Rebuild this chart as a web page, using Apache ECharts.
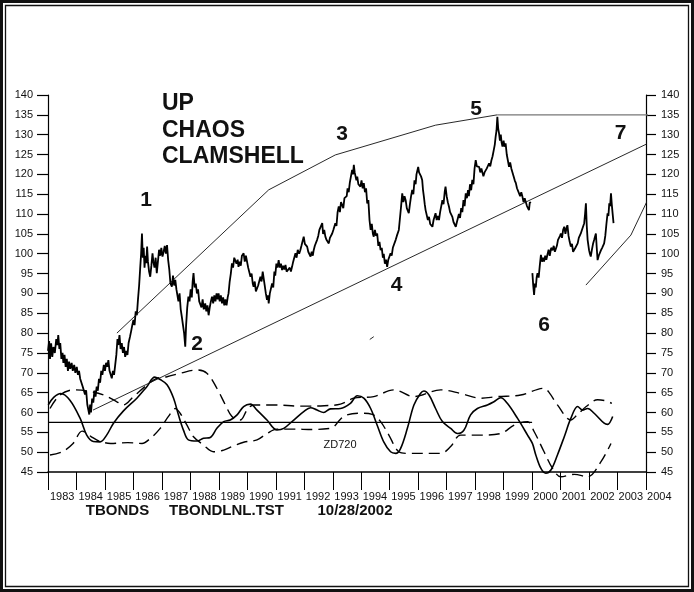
<!DOCTYPE html>
<html><head><meta charset="utf-8">
<script src="https://cdn.jsdelivr.net/npm/echarts@6/dist/echarts.min.js"></script>
<style>html,body{margin:0;padding:0;background:#fff}#c{width:694px;height:592px}</style>
</head><body><div id="c"></div>
<script>
// ---------- data ----------
const yearLabels = ['1983','1984','1985','1986','1987','1988','1989','1990','1991','1992','1993','1994','1995','1996','1997','1998','1999','2000','2001','2002','2003','2004'];

const priceA = [[1983.00,75.5],[1983.04,78.0],[1983.07,73.5],[1983.11,77.4],[1983.15,74.0],[1983.19,76.5],[1983.24,75.0],[1983.29,78.5],[1983.33,77.0],[1983.36,79.5],[1983.40,76.0],[1983.43,77.5],[1983.47,73.5],[1983.51,75.0],[1983.54,72.5],[1983.58,74.5],[1983.62,71.5],[1983.66,73.5],[1983.70,70.5],[1983.74,72.8],[1983.78,71.0],[1983.83,72.5],[1983.87,70.5],[1983.92,72.0],[1983.96,70.0],[1984.01,71.5],[1984.05,69.5],[1984.09,70.5],[1984.13,68.5],[1984.18,69.0],[1984.22,66.5],[1984.26,67.0],[1984.30,64.5],[1984.34,65.5],[1984.38,62.0],[1984.42,61.5],[1984.45,59.5],[1984.48,62.0],[1984.51,60.0],[1984.55,63.5],[1984.59,62.5],[1984.63,65.5],[1984.67,64.0],[1984.71,66.5],[1984.75,65.5],[1984.79,68.5],[1984.83,67.5],[1984.87,70.5],[1984.91,69.5],[1984.96,72.0],[1985.00,70.5],[1985.04,72.5],[1985.08,71.5],[1985.12,73.2],[1985.16,70.5],[1985.20,71.0],[1985.24,68.6],[1985.28,70.5],[1985.32,69.5],[1985.36,72.0],[1985.40,74.5],[1985.44,78.5],[1985.47,77.0],[1985.51,79.5],[1985.55,76.0],[1985.59,77.5],[1985.63,75.0],[1985.67,76.5],[1985.71,74.0],[1985.75,75.5],[1985.79,74.5],[1985.83,77.5],[1985.88,79.1],[1985.92,80.5],[1985.96,82.0],[1986.00,83.3],[1986.04,82.0],[1986.08,85.5],[1986.12,84.5],[1986.16,88.5],[1986.20,92.0],[1986.24,96.7],[1986.27,100.0],[1986.30,105.1],[1986.33,99.0],[1986.36,101.5],[1986.39,96.5],[1986.42,99.5],[1986.45,97.6],[1986.48,101.8],[1986.51,98.0],[1986.55,95.5],[1986.59,94.2],[1986.63,97.0],[1986.67,100.1],[1986.70,98.0],[1986.74,96.5],[1986.78,99.0],[1986.82,95.1],[1986.86,98.0],[1986.90,101.0],[1986.94,99.5],[1986.98,101.5],[1987.02,99.3],[1987.06,100.5],[1987.10,102.0],[1987.14,100.0],[1987.18,102.2],[1987.22,98.4],[1987.26,96.0],[1987.30,92.5],[1987.35,91.7],[1987.39,94.5],[1987.43,92.0],[1987.47,93.4],[1987.51,91.0],[1987.55,90.5],[1987.58,88.0],[1987.62,90.0],[1987.66,86.0],[1987.70,84.1],[1987.74,82.0],[1987.78,80.0],[1987.82,76.6],[1987.85,82.0],[1987.89,86.5],[1987.93,89.2],[1987.97,88.0],[1988.01,91.0],[1988.05,89.0],[1988.08,93.0],[1988.11,95.1],[1988.15,91.5],[1988.19,92.5],[1988.23,90.0],[1988.27,91.0],[1988.31,88.0],[1988.35,88.4],[1988.39,86.5],[1988.43,88.5],[1988.47,86.0],[1988.52,87.5],[1988.56,85.5],[1988.60,87.0],[1988.64,84.5],[1988.68,86.5],[1988.72,88.0],[1988.76,89.2],[1988.80,87.5],[1988.84,89.5],[1988.88,88.0],[1988.92,90.0],[1988.96,88.5],[1988.99,90.0],[1989.03,88.0],[1989.07,89.5],[1989.11,87.5],[1989.15,89.0],[1989.19,87.0],[1989.23,88.5],[1989.27,87.0],[1989.31,89.0],[1989.34,90.0],[1989.38,93.0],[1989.42,95.0],[1989.46,97.6],[1989.50,96.5],[1989.54,99.0],[1989.58,99.3],[1989.62,97.5],[1989.66,98.5],[1989.69,96.7],[1989.73,98.0],[1989.77,97.0],[1989.81,99.5],[1989.87,100.1],[1989.91,98.0],[1989.95,99.5],[1989.99,99.3],[1990.03,96.5],[1990.07,97.0],[1990.11,94.2],[1990.15,95.0],[1990.19,92.5],[1990.22,91.7],[1990.26,93.0],[1990.30,90.5],[1990.34,90.0],[1990.38,92.0],[1990.42,91.5],[1990.46,94.2],[1990.50,93.0],[1990.54,95.5],[1990.57,95.1],[1990.61,92.0],[1990.65,90.0],[1990.69,88.4],[1990.73,89.5],[1990.75,87.5],[1990.79,90.0],[1990.83,89.5],[1990.87,92.5],[1990.91,91.5],[1990.95,95.5],[1990.98,94.5],[1991.02,97.5],[1991.06,96.5],[1991.10,98.4],[1991.14,96.5],[1991.18,97.5],[1991.22,95.9],[1991.26,97.0],[1991.30,96.0],[1991.34,97.2],[1991.38,95.5],[1991.42,96.0],[1991.45,95.1],[1991.49,96.5],[1991.53,95.5],[1991.57,96.7],[1991.61,98.0],[1991.65,97.5],[1991.69,100.1],[1991.73,99.0],[1991.77,101.0],[1991.82,100.0],[1991.86,100.9],[1991.90,102.0],[1991.94,101.5],[1991.98,104.3],[1992.02,102.5],[1992.06,103.0],[1992.10,101.8],[1992.14,100.5],[1992.18,101.0],[1992.22,99.3],[1992.26,100.5],[1992.30,99.5],[1992.33,100.9],[1992.37,102.0],[1992.41,101.5],[1992.45,103.5],[1992.49,104.5],[1992.53,106.0],[1992.58,105.5],[1992.63,107.7],[1992.66,105.0],[1992.70,106.0],[1992.74,104.3],[1992.78,103.5],[1992.82,104.0],[1992.86,102.6],[1992.90,104.0],[1992.94,103.5],[1992.98,105.1],[1993.02,106.0],[1993.06,105.5],[1993.09,107.7],[1993.13,107.0],[1993.17,110.5],[1993.21,111.9],[1993.25,110.5],[1993.29,113.0],[1993.33,112.7],[1993.37,111.5],[1993.41,114.0],[1993.45,113.5],[1993.49,114.5],[1993.52,116.5],[1993.56,115.5],[1993.60,118.0],[1993.64,117.5],[1993.68,121.1],[1993.71,120.0],[1993.74,122.4],[1993.77,120.5],[1993.80,121.0],[1993.83,118.5],[1993.86,119.4],[1993.90,117.5],[1993.94,118.0],[1993.97,116.9],[1994.01,118.5],[1994.05,116.5],[1994.09,117.8],[1994.13,115.5],[1994.17,116.5],[1994.21,112.7],[1994.25,113.5],[1994.29,108.5],[1994.33,106.0],[1994.37,107.5],[1994.41,105.0],[1994.44,104.3],[1994.48,106.0],[1994.52,104.5],[1994.56,105.1],[1994.60,102.0],[1994.64,103.0],[1994.68,100.9],[1994.72,101.5],[1994.76,99.0],[1994.79,100.0],[1994.83,97.5],[1994.87,98.5],[1994.91,96.7],[1994.95,98.5],[1994.99,98.0],[1995.03,100.1],[1995.07,99.5],[1995.11,101.5],[1995.15,101.0],[1995.21,103.5],[1995.25,104.5],[1995.29,104.0],[1995.32,106.0],[1995.36,109.0],[1995.40,112.0],[1995.44,115.2],[1995.48,113.0],[1995.52,114.5],[1995.56,113.5],[1995.60,111.5],[1995.64,112.0],[1995.67,110.2],[1995.71,112.5],[1995.75,114.5],[1995.79,116.1],[1995.83,115.0],[1995.87,118.5],[1995.91,117.5],[1995.94,120.0],[1995.97,119.5],[1996.00,121.9],[1996.03,120.5],[1996.06,121.0],[1996.10,119.5],[1996.14,118.6],[1996.17,116.0],[1996.20,114.4],[1996.23,112.5],[1996.26,111.0],[1996.30,110.5],[1996.34,108.5],[1996.38,109.3],[1996.42,107.5],[1996.46,108.0],[1996.50,106.8],[1996.54,108.5],[1996.58,109.0],[1996.61,110.2],[1996.65,108.5],[1996.69,109.5],[1996.73,108.5],[1996.77,110.5],[1996.81,112.0],[1996.85,113.5],[1996.89,112.5],[1996.93,115.5],[1996.96,116.9],[1997.00,114.5],[1997.04,113.0],[1997.08,111.9],[1997.12,110.5],[1997.16,110.0],[1997.20,109.3],[1997.24,108.0],[1997.28,107.5],[1997.32,106.8],[1997.36,108.0],[1997.40,108.5],[1997.43,110.0],[1997.47,109.0],[1997.51,111.5],[1997.55,110.5],[1997.59,113.5],[1997.63,112.0],[1997.67,115.2],[1997.71,114.0],[1997.75,116.0],[1997.78,114.5],[1997.82,117.5],[1997.86,116.0],[1997.90,118.6],[1997.94,117.5],[1997.98,121.5],[1998.02,123.6],[1998.06,122.0],[1998.10,122.5],[1998.14,121.9],[1998.18,120.5],[1998.22,121.5],[1998.25,121.1],[1998.29,119.5],[1998.33,120.5],[1998.37,120.3],[1998.41,121.5],[1998.45,121.0],[1998.49,122.8],[1998.53,122.0],[1998.57,123.5],[1998.61,124.5],[1998.65,126.0],[1998.69,127.5],[1998.72,129.5],[1998.75,131.0],[1998.78,134.5],[1998.81,131.5],[1998.84,130.3],[1998.87,128.5],[1998.90,130.0],[1998.93,128.0],[1998.96,127.0],[1999.00,128.5],[1999.03,127.0],[1999.07,127.8],[1999.11,125.0],[1999.15,123.5],[1999.19,121.9],[1999.23,123.0],[1999.27,121.5],[1999.31,121.1],[1999.35,119.5],[1999.39,118.5],[1999.43,117.8],[1999.47,116.5],[1999.51,117.0],[1999.54,116.1],[1999.58,114.5],[1999.62,115.5],[1999.66,114.4],[1999.70,113.0],[1999.74,114.0],[1999.78,113.5],[1999.82,112.0],[1999.86,112.5],[1999.89,111.0],[1999.92,113.0],[1999.95,112.7]];

const priceB = [[2000.01,95.1],[2000.04,92.0],[2000.07,89.6],[2000.10,92.5],[2000.13,91.5],[2000.16,94.0],[2000.19,95.1],[2000.23,94.0],[2000.27,97.0],[2000.31,99.7],[2000.35,98.0],[2000.39,99.0],[2000.42,98.0],[2000.46,99.5],[2000.50,98.5],[2000.54,99.8],[2000.58,101.0],[2000.62,99.5],[2000.67,101.5],[2000.72,100.9],[2000.76,102.0],[2000.80,100.5],[2000.83,100.1],[2000.87,102.0],[2000.91,103.5],[2000.95,103.0],[2000.98,104.5],[2001.01,105.1],[2001.05,104.0],[2001.09,106.0],[2001.13,106.8],[2001.17,105.0],[2001.21,106.5],[2001.24,107.2],[2001.28,104.5],[2001.32,103.0],[2001.36,101.8],[2001.40,102.5],[2001.44,100.5],[2001.48,100.1],[2001.52,101.5],[2001.56,101.0],[2001.60,102.6],[2001.64,104.0],[2001.67,103.5],[2001.71,105.1],[2001.75,106.0],[2001.79,105.5],[2001.83,107.7],[2001.86,110.0],[2001.89,112.7],[2001.92,107.0],[2001.95,103.5],[2002.00,100.9],[2002.03,100.0],[2002.06,99.3],[2002.10,101.0],[2002.14,102.5],[2002.18,103.5],[2002.21,104.0],[2002.24,105.1],[2002.27,101.5],[2002.30,98.4],[2002.34,99.5],[2002.38,100.0],[2002.42,100.9],[2002.46,101.5],[2002.50,101.0],[2002.53,102.6],[2002.57,104.5],[2002.61,107.5],[2002.65,110.2],[2002.68,109.5],[2002.71,112.7],[2002.74,112.0],[2002.77,115.2],[2002.80,112.3],[2002.83,110.0],[2002.86,107.7]];

const oscSolid = [[1983.01,61.9],[1983.2,63.8],[1983.45,64.8],[1983.77,63.1],[1984.13,58.5],[1984.36,54.3],[1984.59,52.7],[1984.83,52.6],[1985.06,54.3],[1985.3,57.3],[1985.65,60.4],[1986.12,63.6],[1986.47,66.5],[1986.75,68.9],[1986.94,68.3],[1987.18,67.0],[1987.41,63.6],[1987.58,59.4],[1987.76,55.5],[1987.93,53.1],[1988.23,52.8],[1988.46,53.5],[1988.7,53.7],[1988.93,56.0],[1989.17,57.7],[1989.4,58.1],[1989.64,59.4],[1989.87,61.5],[1990.11,62.1],[1990.34,60.6],[1990.69,58.1],[1991.04,55.6],[1991.28,56.0],[1991.63,58.1],[1991.98,60.2],[1992.22,61.2],[1992.45,60.6],[1992.68,60.0],[1992.92,60.9],[1993.27,61.0],[1993.62,62.3],[1993.86,64.2],[1994.09,63.6],[1994.33,61.0],[1994.56,56.8],[1994.79,52.6],[1995.03,50.1],[1995.21,49.7],[1995.38,50.9],[1995.62,56.0],[1995.85,61.9],[1996.08,64.8],[1996.2,65.4],[1996.38,64.4],[1996.61,61.0],[1996.85,57.7],[1997.14,56.0],[1997.38,54.7],[1997.61,55.6],[1997.84,59.4],[1998.08,61.0],[1998.43,61.9],[1998.66,62.7],[1998.9,63.7],[1999.13,62.3],[1999.49,58.5],[1999.84,54.3],[2000.01,52.2],[2000.13,49.3],[2000.31,45.9],[2000.48,44.7],[2000.66,45.5],[2000.89,49.3],[2001.13,53.9],[2001.36,58.5],[2001.6,61.5],[2001.77,60.6],[2001.95,61.0],[2002.18,59.8],[2002.53,57.3],[2002.65,57.0],[2002.83,59.0]];

const oscDashUpper = [[1983.07,61.0],[1983.42,64.4],[1983.89,65.7],[1984.48,65.3],[1984.95,64.4],[1985.42,62.7],[1985.65,61.9],[1986.0,64.0],[1986.47,66.9],[1986.82,68.6],[1987.18,69.0],[1987.65,69.9],[1988.23,70.7],[1988.58,69.9],[1988.93,66.1],[1989.23,61.9],[1989.46,59.0],[1989.75,58.1],[1989.99,60.6],[1990.22,61.9],[1990.92,61.9],[1991.9,61.6],[1992.7,61.7],[1993.27,62.1],[1993.74,63.6],[1994.44,64.0],[1995.15,65.7],[1995.85,64.0],[1996.79,65.7],[1997.49,64.8],[1998.2,63.6],[1998.78,64.0],[1999.6,64.4],[2000.42,66.1],[2000.6,65.0],[2000.89,61.9],[2001.36,58.1],[2001.6,59.5],[2001.9,61.5],[2002.3,63.2],[2002.6,62.9],[2002.8,62.3]];

const oscDashLower = [[1983.07,49.3],[1983.5,50.1],[1983.88,52.2],[1984.2,55.3],[1984.5,54.0],[1984.8,52.8],[1985.2,52.2],[1985.8,52.4],[1986.3,52.2],[1986.6,53.5],[1986.94,56.0],[1987.23,59.0],[1987.47,61.0],[1987.64,59.8],[1987.88,56.8],[1988.11,53.9],[1988.46,51.8],[1988.81,50.1],[1989.17,50.5],[1989.52,51.6],[1989.87,52.5],[1990.34,53.1],[1990.69,54.7],[1991.04,55.8],[1991.6,55.8],[1992.3,55.7],[1992.9,56.0],[1993.04,56.4],[1993.27,58.3],[1993.5,59.4],[1993.97,59.8],[1994.39,59.5],[1994.68,57.7],[1994.97,54.3],[1995.32,50.1],[1995.62,49.7],[1996.79,49.7],[1997.14,51.4],[1997.49,54.3],[1998.2,54.3],[1998.9,54.7],[1999.37,56.8],[1999.84,57.7],[2000.07,55.2],[2000.42,50.1],[2000.72,45.9],[2001.01,43.8],[2001.48,44.4],[2001.95,43.8],[2002.42,47.6],[2002.77,52.2]];

const zeroLine = [[1983.0,57.5],[2000.0,57.5]];
const clamTop = [[1985.42,80.0],[1990.75,116.1],[1993.09,124.9],[1996.61,132.4],[1998.78,135.0]];
const topFlat = [[1998.78,135.0],[2004.35,135.0]];
const trendLow = [[1984.58,60.6],[2004.53,129.4]];
const line7 = [[2001.89,92.1],[2003.47,104.7],[2004.81,124.9]];
const smallMark = [[1994.30,78.4],[1994.44,79.1]];

const FONT = '"Liberation Sans", Arial, Helvetica, sans-serif';

// ---------- chart ----------
const chart = echarts.init(document.getElementById('c'), null, {renderer: 'canvas'});

function lineS(data, opts) {
  return Object.assign({
    type: 'line', data: data, xAxisIndex: 0, yAxisIndex: 0,
    symbol: 'none', clip: false, silent: true, animation: false,
    lineStyle: {color: '#000', width: 1}
  }, opts);
}

const yAxisCommon = {
  type: 'value', min: 45, max: 140, interval: 5, gridIndex: 0,
  axisLine: {show: true, lineStyle: {color: '#000', width: 1.2}},
  splitLine: {show: false}
};

chart.setOption({
  backgroundColor: '#fff',
  animation: false,
  textStyle: {fontFamily: FONT},
  grid: [
    {left: 48, right: 48, top: 95, bottom: 120, containLabel: false},
    {left: 48, right: 20.5, top: 95, bottom: 120, containLabel: false}
  ],
  xAxis: [
    {type: 'value', gridIndex: 0, min: 1983, max: 2004, interval: 1,
     axisLine: {show: true, onZero: false, lineStyle: {color: '#000', width: 1.5}},
     axisTick: {show: true, inside: false, length: 18, lineStyle: {color: '#000', width: 1}},
     axisLabel: {show: false}, splitLine: {show: false}},
    {type: 'category', gridIndex: 1, data: yearLabels, boundaryGap: true,
     axisLine: {show: false}, axisTick: {show: false}, splitLine: {show: false},
     axisLabel: {interval: 0, margin: 19, fontSize: 11, color: '#111', fontFamily: FONT}}
  ],
  yAxis: [
    Object.assign({}, yAxisCommon, {position: 'left',
      axisTick: {show: true, length: 11, lineStyle: {color: '#000', width: 1.2}},
      axisLabel: {fontSize: 11, color: '#111', margin: 15, fontFamily: FONT}}),
    Object.assign({}, yAxisCommon, {position: 'right',
      axisTick: {show: true, length: 10, lineStyle: {color: '#000', width: 1.2}},
      axisLabel: {fontSize: 11, color: '#111', margin: 15, fontFamily: FONT}}),
    {type: 'value', gridIndex: 1, show: false, min: 0, max: 1}
  ],
  series: [
    lineS(priceA, {lineStyle: {color: '#000', width: 1.8}}),
    lineS(priceB, {lineStyle: {color: '#000', width: 1.8}}),
    lineS(zeroLine, {lineStyle: {color: '#000', width: 1.3}}),
    lineS(oscSolid, {smooth: 0.35, lineStyle: {color: '#000', width: 1.6}}),
    lineS(oscDashUpper, {smooth: 0.35, lineStyle: {color: '#000', width: 1.4, type: [11, 6]}}),
    lineS(oscDashLower, {smooth: 0.35, lineStyle: {color: '#000', width: 1.4, type: [11, 6]}}),
    lineS(clamTop, {lineStyle: {color: '#111', width: 0.9}}),
    lineS(topFlat, {lineStyle: {color: '#777', width: 1.2}}),
    lineS(trendLow, {lineStyle: {color: '#111', width: 0.9}}),
    lineS(line7, {lineStyle: {color: '#111', width: 0.9}}),
    lineS(smallMark, {lineStyle: {color: '#111', width: 0.9}})
  ],
  graphic: [
    {type: 'rect', shape: {x: 1.5, y: 1.5, width: 691, height: 589}, style: {fill: null, stroke: '#111', lineWidth: 3}, silent: true},
    {type: 'rect', shape: {x: 5.5, y: 5.5, width: 683, height: 581}, style: {fill: null, stroke: '#111', lineWidth: 1.3}, silent: true},
    {type: 'text', x: 162, y: 103.5, style: {text: 'UP', font: 'bold 23px ' + FONT, fill: '#111', textAlign: 'left', textVerticalAlign: 'middle'}},
    {type: 'text', x: 162, y: 131, style: {text: 'CHAOS', font: 'bold 23px ' + FONT, fill: '#111', textAlign: 'left', textVerticalAlign: 'middle'}},
    {type: 'text', x: 162, y: 156.7, style: {text: 'CLAMSHELL', font: 'bold 23px ' + FONT, fill: '#111', textAlign: 'left', textVerticalAlign: 'middle'}},
    {type: 'text', x: 146, y: 200.5, style: {text: '1', font: 'bold 21px ' + FONT, fill: '#111', textAlign: 'center', textVerticalAlign: 'middle'}},
    {type: 'text', x: 197, y: 344.5, style: {text: '2', font: 'bold 21px ' + FONT, fill: '#111', textAlign: 'center', textVerticalAlign: 'middle'}},
    {type: 'text', x: 342, y: 134.5, style: {text: '3', font: 'bold 21px ' + FONT, fill: '#111', textAlign: 'center', textVerticalAlign: 'middle'}},
    {type: 'text', x: 396.5, y: 285.5, style: {text: '4', font: 'bold 21px ' + FONT, fill: '#111', textAlign: 'center', textVerticalAlign: 'middle'}},
    {type: 'text', x: 476, y: 109.5, style: {text: '5', font: 'bold 21px ' + FONT, fill: '#111', textAlign: 'center', textVerticalAlign: 'middle'}},
    {type: 'text', x: 544, y: 325, style: {text: '6', font: 'bold 21px ' + FONT, fill: '#111', textAlign: 'center', textVerticalAlign: 'middle'}},
    {type: 'text', x: 620.5, y: 133.7, style: {text: '7', font: 'bold 21px ' + FONT, fill: '#111', textAlign: 'center', textVerticalAlign: 'middle'}},
    {type: 'text', x: 340, y: 444.5, style: {text: 'ZD720', font: '11px ' + FONT, fill: '#111', textAlign: 'center', textVerticalAlign: 'middle'}},
    {type: 'text', x: 117.5, y: 511, style: {text: 'TBONDS', font: 'bold 15px ' + FONT, fill: '#111', textAlign: 'center', textVerticalAlign: 'middle'}},
    {type: 'text', x: 226.5, y: 511, style: {text: 'TBONDLNL.TST', font: 'bold 15px ' + FONT, fill: '#111', textAlign: 'center', textVerticalAlign: 'middle'}},
    {type: 'text', x: 355, y: 511, style: {text: '10/28/2002', font: 'bold 15px ' + FONT, fill: '#111', textAlign: 'center', textVerticalAlign: 'middle'}}
  ]
});
</script>
</body></html>
